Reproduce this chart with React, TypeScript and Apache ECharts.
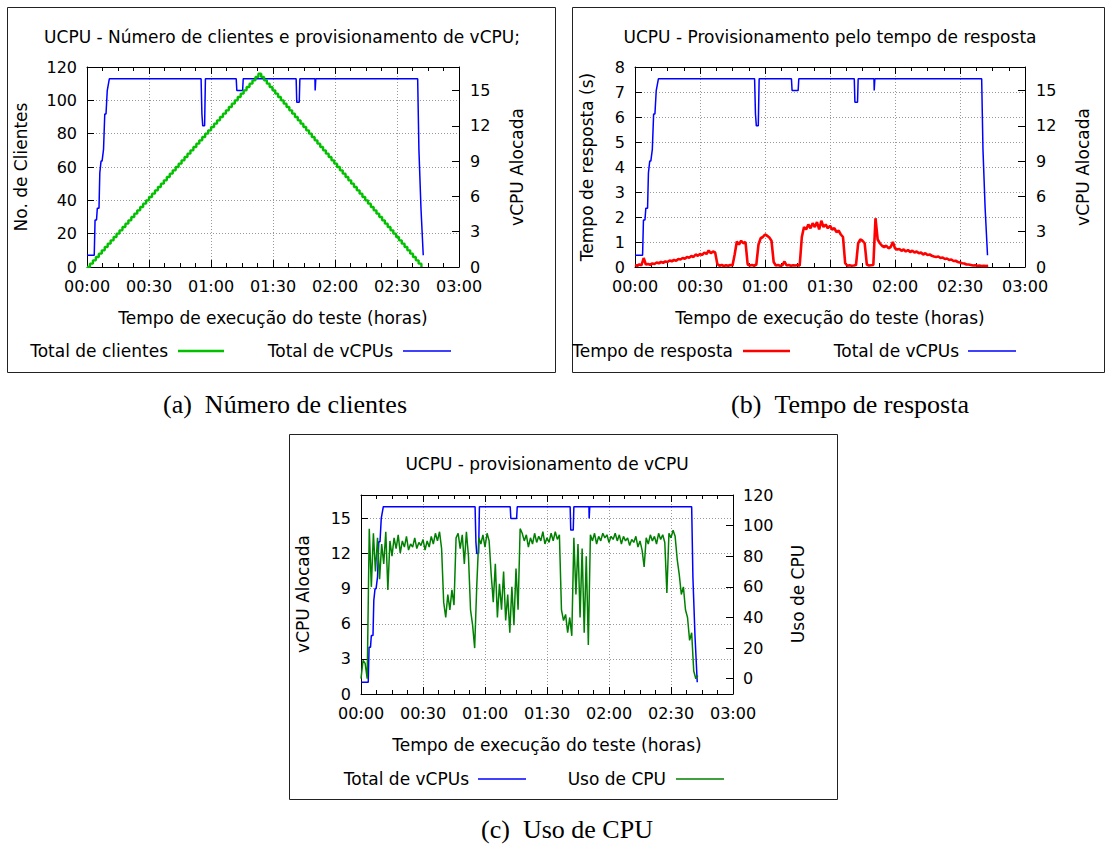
import React, { useEffect, useRef } from 'react';
import * as echarts from 'echarts';

// ---------- data ----------
const timeTickLabels = ['00:00', '00:30', '01:00', '01:30', '02:00', '02:30', '03:00'];

// allocated vCPUs (minutes since start, value)
const vcpuTimes = [0, 3.5, 3.9, 4.6, 5.0, 5.8, 6.2, 6.8, 7.3, 8.0, 8.6, 9.2, 9.8, 10.8, 55.2, 55.6, 56.0, 56.9, 57.3, 72.2, 72.5, 75.3, 75.6, 101.2, 101.5, 102.7, 103.0, 110.3, 110.4, 110.6, 110.7, 160.0, 160.6, 161.6, 162.7];
const vcpuValues = [1, 1, 4, 4, 5, 5, 8, 9, 9, 10, 13, 13, 15, 16, 16, 13, 12, 12, 16, 16, 15, 15, 16, 16, 14, 14, 16, 16, 15, 15, 16, 16, 10, 5, 1];

// number of clients (staircase up then down)
const clientsRise = [0, 2, 4, 6, 8, 10, 12, 14, 16, 18, 20, 22, 24, 26, 28, 30, 32, 34, 36, 38, 40, 42, 44, 46, 48, 50, 52, 54, 56, 58, 60, 62, 64, 66, 68, 70, 72, 74, 76, 78, 80, 82, 84, 86, 88, 90, 92, 94, 96, 98, 100, 102, 104, 106, 108, 110, 112, 114, 116];
const clientsFall = [116, 114, 112, 110, 108, 106, 104, 102, 100, 98, 96, 94, 92, 90, 88, 86, 84, 82, 80, 78, 76, 74, 72, 70, 68, 66, 64, 62, 60, 58, 56, 54, 52, 50, 48, 46, 44, 42, 40, 38, 36, 34, 32, 30, 28, 26, 24, 22, 20, 18, 16, 14, 12, 10, 8, 6, 4, 2, 0];
const clientsRiseStepMin = 1.43;
const clientsFallStepMin = 1.36;

// response time (s), one sample per minute from 00:00
const responseValues = [
  0.08, 0.05, 0.1, 0.07, 0.36, 0.1, 0.12, 0.09, 0.14, 0.12,
  0.18, 0.15, 0.2, 0.17, 0.22, 0.2, 0.26, 0.23, 0.28, 0.25,
  0.32, 0.3, 0.36, 0.33, 0.4, 0.37, 0.44, 0.4, 0.5, 0.45,
  0.52, 0.48, 0.58, 0.52, 0.66, 0.55, 0.62, 0.58, 0.12, 0.05,
  0.08, 0.04, 0.07, 0.05, 0.08, 0.06, 0.5, 1.02, 0.9, 1.05,
  0.95, 1.0, 0.1, 0.06, 0.08, 0.05, 0.1, 0.9, 1.15, 1.2,
  1.3, 1.25, 1.18, 1.05, 0.2, 0.06, 0.08, 0.05, 0.07, 0.22,
  0.06, 0.08, 0.05, 0.07, 0.06, 0.08, 0.05, 1.2, 1.6, 1.5,
  1.7, 1.55, 1.75, 1.6, 1.8, 1.5, 1.85, 1.6, 1.7, 1.55,
  1.65, 1.5, 1.55, 1.4, 1.45, 1.3, 1.2, 0.15, 0.05, 0.07,
  0.05, 0.06, 0.08, 0.95, 1.1, 1.05, 0.95, 0.1, 0.06, 0.07,
  0.08, 1.95, 1.1, 0.95, 0.85, 0.8, 0.85, 0.75, 0.8, 1.0,
  0.75, 0.7, 0.72, 0.65, 0.7, 0.62, 0.68, 0.6, 0.65, 0.58,
  0.62, 0.55, 0.58, 0.5, 0.55, 0.48, 0.5, 0.45, 0.42, 0.4,
  0.42, 0.36, 0.38, 0.32, 0.34, 0.28, 0.3, 0.24, 0.25, 0.2,
  0.18, 0.15, 0.14, 0.1, 0.1, 0.08, 0.06, 0.07, 0.05, 0.06,
  0.04, 0.05, 0.04, 0.05,
];

// CPU usage (%), one sample per minute from 00:00
const cpuValues = [
  0, 12, 10, 0, 98, 60, 95, 70, 92, 65,
  88, 75, 96, 58, 90, 80, 92, 85, 94, 82,
  90, 86, 93, 84, 88, 86, 92, 85, 89, 87,
  91, 84, 90, 86, 93, 88, 95, 90, 96, 85,
  50, 40, 55, 45, 58, 48, 92, 95, 85, 94,
  75, 96, 80, 45, 35, 20, 60, 92, 88, 94,
  86, 95, 90, 68, 50, 75, 40, 62, 45, 70,
  38, 55, 30, 60, 35, 72, 45, 98, 95, 90,
  94, 86, 92, 88, 95, 89, 93, 90, 96, 88,
  92, 89, 95, 90, 96, 91, 94, 45, 38, 42,
  30, 40, 28, 92, 55, 88, 40, 85, 30, 80,
  22, 94, 90, 95, 88, 93, 90, 95, 92, 94,
  89, 93, 91, 95, 90, 94, 88, 93, 90, 92,
  87, 91, 89, 93, 86, 90, 84, 73, 92, 88,
  94, 90, 93, 88, 95, 91, 94, 89, 56, 95,
  92, 97, 93, 78, 68, 55, 60, 45, 40, 25,
  30, 5, 0, 2,
];

const vcpuTickValues = [0, 3, 6, 9, 12, 15];
const cpuTickValues = [0, 20, 40, 60, 80, 100, 120];

// ---------- styling helpers ----------
const FONT = '"DejaVu Sans", Verdana, sans-serif';
const SERIF = '"Liberation Serif", "Times New Roman", serif';
const BLUE = '#0000ff';
const GREEN_A = '#00c000';
const GREEN_C = '#008000';
const RED = '#ff0000';
const TXT = `17px ${FONT}`;

const axisLineStyle = { color: '#000', width: 1 };
const gridLineStyle = { color: '#999', width: 1, type: [1, 2] };

function fmtTime(v: number) {
  const i = Math.round(v / 30);
  return timeTickLabels[i] ?? '';
}

function makeXAxes(gridIndex: number) {
  const common = {
    type: 'value',
    gridIndex,
    min: 0,
    max: 180,
    interval: 30,
    axisLine: { show: true, onZero: false, lineStyle: axisLineStyle },
    axisTick: { show: true, inside: true, length: 7, lineStyle: axisLineStyle },
    minorTick: { show: true, splitNumber: 4, length: 4, lineStyle: axisLineStyle },
    minorSplitLine: { show: false },
  };
  return [
    {
      ...common,
      position: 'bottom',
      axisLabel: { show: true, margin: 11, fontFamily: FONT, fontSize: 16, color: '#000', formatter: fmtTime },
      splitLine: { show: true, lineStyle: gridLineStyle },
    },
    {
      ...common,
      position: 'top',
      axisLabel: { show: false },
      splitLine: { show: false },
    },
  ];
}

function yLabel(margin: number, extra: any = {}) {
  return { show: true, margin, fontFamily: FONT, fontSize: 16, color: '#000', ...extra };
}

function yAxisBase(gridIndex: number, position: string) {
  return {
    type: 'value',
    gridIndex,
    position,
    axisLine: { show: true, onZero: false, lineStyle: axisLineStyle },
  };
}

function text(x: number, y: number, s: string, opts: any = {}) {
  const { rotation, align = 'center', font, fill = '#000' } = opts;
  return {
    type: 'text',
    x,
    y,
    rotation: rotation || 0,
    silent: true,
    style: {
      text: s,
      font: font || TXT,
      fill,
      align,
      verticalAlign: 'middle',
      textAlign: align,
      textVerticalAlign: 'middle',
    },
  };
}

function hline(x1: number, x2: number, y: number, color: string, width: number) {
  return {
    type: 'line',
    silent: true,
    shape: { x1, y1: y, x2, y2: y },
    style: { stroke: color, lineWidth: width },
  };
}

function box(x: number, y: number, w: number, h: number) {
  return {
    type: 'rect',
    silent: true,
    shape: { x: x + 0.5, y: y + 0.5, width: w, height: h },
    style: { fill: 'none', stroke: '#222', lineWidth: 1 },
  };
}

export default function App() {
  const ref = useRef<HTMLDivElement>(null);

  useEffect(() => {
    if (!ref.current) return;
    const chart = echarts.init(ref.current, null, { renderer: 'svg' });

    const vcpuData = vcpuTimes.map((t, i) => [t, vcpuValues[i]]);
    const peakT = (clientsRise.length - 1) * clientsRiseStepMin;
    const clientsData = [
      ...clientsRise.map((v, i) => [i * clientsRiseStepMin, v]),
      ...clientsFall.slice(1).map((v, i) => [peakT + (i + 1) * clientsFallStepMin, v]),
    ];
    const responseData = responseValues.map((v, i) => [i, v]);
    const cpuData = cpuValues.map((v, i) => [i, v]);

    const lineSeries = (xi: number, yi: number, data: any[], color: string, width: number, z: number, step?: any) => ({
      type: 'line',
      xAxisIndex: xi,
      yAxisIndex: yi,
      data,
      step: step || false,
      symbol: 'none',
      showSymbol: false,
      silent: true,
      z,
      itemStyle: { color },
      lineStyle: { color, width },
      emphasis: { disabled: true },
    });

    const option: any = {
      animation: false,
      backgroundColor: '#fff',
      grid: [
        { left: 87, top: 67, width: 372, height: 200, containLabel: false, outerBoundsMode: 'none' },
        { left: 635, top: 67, width: 390, height: 200, containLabel: false, outerBoundsMode: 'none' },
        { left: 361, top: 495, width: 372, height: 199, containLabel: false, outerBoundsMode: 'none' },
      ],
      xAxis: [...makeXAxes(0), ...makeXAxes(1), ...makeXAxes(2)],
      yAxis: [
        {
          ...yAxisBase(0, 'left'),
          min: 0, max: 120, interval: 20,
          axisTick: { show: true, inside: true, length: 7, lineStyle: axisLineStyle },
          axisLabel: yLabel(10),
          splitLine: { show: true, lineStyle: gridLineStyle },
        },
        {
          ...yAxisBase(0, 'right'),
          min: 0, max: 17,
          axisTick: { show: true, inside: true, length: 7, lineStyle: axisLineStyle, customValues: vcpuTickValues },
          axisLabel: yLabel(11, { customValues: vcpuTickValues }),
          splitLine: { show: false },
        },
        {
          ...yAxisBase(1, 'left'),
          min: 0, max: 8, interval: 1,
          axisTick: { show: true, inside: true, length: 7, lineStyle: axisLineStyle },
          axisLabel: yLabel(10),
          splitLine: { show: true, lineStyle: gridLineStyle },
        },
        {
          ...yAxisBase(1, 'right'),
          min: 0, max: 17,
          axisTick: { show: true, inside: true, length: 7, lineStyle: axisLineStyle, customValues: vcpuTickValues },
          axisLabel: yLabel(11, { customValues: vcpuTickValues }),
          splitLine: { show: false },
        },
        {
          ...yAxisBase(2, 'left'),
          min: 0, max: 17, interval: 3,
          axisTick: { show: true, inside: true, length: 7, lineStyle: axisLineStyle, customValues: vcpuTickValues },
          axisLabel: yLabel(10, { customValues: vcpuTickValues }),
          splitLine: { show: true, lineStyle: gridLineStyle },
        },
        {
          ...yAxisBase(2, 'right'),
          min: -10, max: 120,
          axisTick: { show: true, inside: true, length: 7, lineStyle: axisLineStyle, customValues: cpuTickValues },
          axisLabel: yLabel(10, { customValues: cpuTickValues }),
          splitLine: { show: false },
        },
      ],
      series: [
        lineSeries(0, 1, vcpuData, BLUE, 1.5, 3),
        lineSeries(0, 0, clientsData, GREEN_A, 2.4, 4, 'end'),
        lineSeries(2, 2, responseData, RED, 2.6, 3),
        lineSeries(2, 3, vcpuData, BLUE, 1.5, 4),
        lineSeries(4, 4, vcpuData, BLUE, 1.5, 3),
        lineSeries(4, 5, cpuData, GREEN_C, 1.5, 4),
      ],
      graphic: {
        elements: [
          box(7, 7, 548, 365),
          box(572, 7, 532, 365),
          box(289, 434, 548, 365),
          // titles
          text(282, 37, 'UCPU - Número de clientes e provisionamento de vCPU;'),
          text(830, 37, 'UCPU - Provisionamento pelo tempo de resposta'),
          text(547, 464, 'UCPU - provisionamento de vCPU'),
          // x axis names
          text(273, 318, 'Tempo de execução do teste (horas)'),
          text(830, 318, 'Tempo de execução do teste (horas)'),
          text(547, 745, 'Tempo de execução do teste (horas)'),
          // y axis names
          text(21, 167, 'No. de Clientes', { rotation: Math.PI / 2 }),
          text(517, 167, 'vCPU Alocada', { rotation: Math.PI / 2 }),
          text(587, 167, 'Tempo de resposta (s)', { rotation: Math.PI / 2 }),
          text(1083, 167, 'vCPU Alocada', { rotation: Math.PI / 2 }),
          text(303, 594, 'vCPU Alocada', { rotation: Math.PI / 2 }),
          text(798, 594, 'Uso de CPU', { rotation: Math.PI / 2 }),
          // legends
          text(168, 351, 'Total de clientes', { align: 'right' }),
          hline(178, 224, 351, GREEN_A, 2.5),
          text(393, 351, 'Total de vCPUs', { align: 'right' }),
          hline(403, 451, 351, BLUE, 1.5),
          text(733, 351, 'Tempo de resposta', { align: 'right' }),
          hline(743, 790, 351, RED, 2.5),
          text(959, 351, 'Total de vCPUs', { align: 'right' }),
          hline(968, 1016, 351, BLUE, 1.5),
          text(469, 779, 'Total de vCPUs', { align: 'right' }),
          hline(478, 526, 779, BLUE, 1.5),
          text(666, 779, 'Uso de CPU', { align: 'right' }),
          hline(676, 724, 779, GREEN_C, 1.5),
          // captions
          text(285, 404, '(a)\u2002Número de clientes', { font: `26px ${SERIF}` }),
          text(850, 404, '(b)\u2002Tempo de resposta', { font: `26px ${SERIF}` }),
          text(567, 829, '(c)\u2002Uso de CPU', { font: `26px ${SERIF}` }),
        ],
      },
    };

    chart.setOption(option);
    return () => chart.dispose();
  }, []);

  return (
    <div
      ref={ref}
      style={{ position: 'absolute', left: 0, top: 0, width: 1111, height: 846, background: '#fff' }}
    />
  );
}
